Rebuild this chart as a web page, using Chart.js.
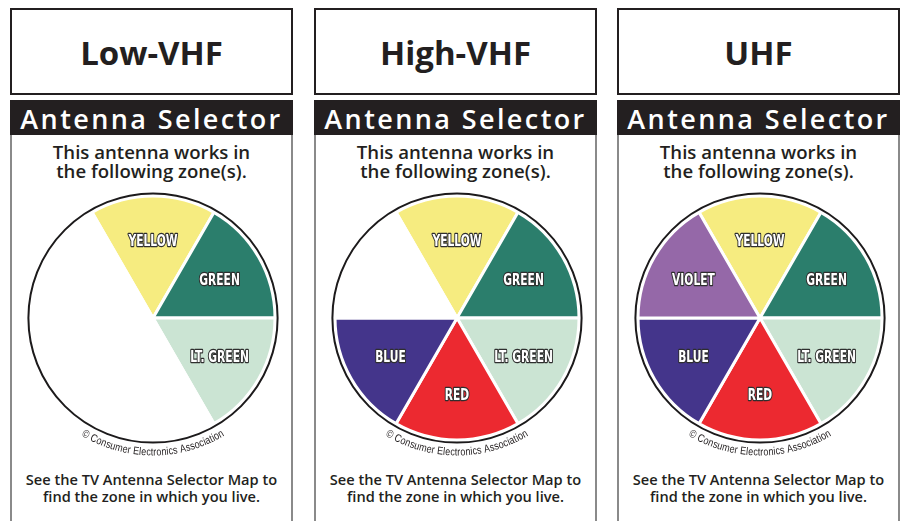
<!DOCTYPE html>
<html>
<head>
<meta charset="utf-8">
<script src="https://cdn.jsdelivr.net/npm/chart.js@4.4.0/dist/chart.umd.min.js"></script>
<style>
  html, body { margin:0; padding:0; background:#fff; }
  body { width:906px; height:521px; position:relative; overflow:hidden; font-family:"Open Sans", sans-serif; color:#231f20; }
  .panel { position:absolute; top:0; width:283px; height:521px; }
  .tbox { position:absolute; left:0; top:8px; width:283px; height:87px; box-sizing:border-box; border:2px solid #231f20; }
  .title { position:absolute; left:0; width:283px; top:36px; text-align:center; font-weight:700; font-size:33px; line-height:33px; white-space:nowrap; }
  .header { position:absolute; left:0; top:100px; width:283px; height:35px; background:#231f20; }
  .htext { position:absolute; left:0; width:283px; top:105px; text-align:center; color:#fff; font-size:27px; line-height:27px; font-weight:600; letter-spacing:2.4px; white-space:nowrap; }
  .body { position:absolute; left:0; top:135px; width:283px; height:400px; box-sizing:border-box; border-left:2px solid #8a8a8a; border-right:2px solid #8a8a8a; }
  .sub { position:absolute; left:0; width:283px; top:141.5px; text-align:center; font-size:18.6px; line-height:19px; font-weight:600; white-space:nowrap; }
  .foot { position:absolute; left:0; width:283px; top:471px; text-align:center; font-size:14.6px; line-height:17px; font-weight:600; white-space:nowrap; }
  canvas { position:absolute; left:0; top:178px; }
</style>
</head>
<body>
<script>
// ---- data ----
const panelTitles = ['Low-VHF', 'High-VHF', 'UHF'];
const zones = ['YELLOW', 'GREEN', 'LT. GREEN', 'RED', 'BLUE', 'VIOLET'];
const zoneColors = ['#f6ec80', '#2b7e6c', '#cbe4d3', '#ec2930', '#44358b', '#9568a8'];
const sliceShares = [1, 1, 1, 1, 1, 1];
const lowVHFZones  = [1, 1, 1, 0, 0, 0];
const highVHFZones = [1, 1, 1, 1, 1, 0];
const uhfZones     = [1, 1, 1, 1, 1, 1];
const panelZones = [lowVHFZones, highVHFZones, uhfZones];
const headerText = 'Antenna Selector';
const subText = ['This antenna works in', 'the following zone(s).'];
const footText = ['See the TV Antenna Selector Map to', 'find the zone in which you live.'];
const copyrightText = '\u00A9 Consumer Electronics Association';

const panelLefts = [10, 314, 617];

// ---- plugins ----
const ringPlugin = {
  id: 'ring',
  afterDatasetsDraw(chart) {
    const arc = chart.getDatasetMeta(0).data[0];
    if (!arc) return;
    const {x, y, outerRadius} = arc.getProps(['x', 'y', 'outerRadius'], true);
    const ctx = chart.ctx;
    ctx.save();
    ctx.beginPath();
    ctx.arc(x, y, outerRadius + 2.6, 0, Math.PI * 2);
    ctx.lineWidth = 2;
    ctx.strokeStyle = '#1c1a1b';
    ctx.stroke();
    ctx.restore();
  }
};

const labelPlugin = {
  id: 'zoneLabels',
  afterDatasetsDraw(chart) {
    const ds = chart.data.datasets[0];
    const active = ds.active;
    const ctx = chart.ctx;
    chart.getDatasetMeta(0).data.forEach((arc, i) => {
      if (!active[i]) return;
      const {x, y, startAngle, endAngle, outerRadius} = arc.getProps(['x', 'y', 'startAngle', 'endAngle', 'outerRadius'], true);
      const mid = (startAngle + endAngle) / 2;
      const r = outerRadius * 0.63;
      const px = x + Math.cos(mid) * r;
      const py = y + Math.sin(mid) * r;
      ctx.save();
      ctx.translate(px, py);
      ctx.scale(0.72, 1);
      ctx.font = 'bold 16.5px "Liberation Sans Narrow", "DejaVu Sans Condensed", sans-serif';
      ctx.textAlign = 'center';
      ctx.textBaseline = 'middle';
      ctx.lineJoin = 'round';
      ctx.lineWidth = 2.6;
      ctx.strokeStyle = '#2e2e2e';
      ctx.strokeText(chart.data.labels[i], 0, 1);
      ctx.fillStyle = '#ffffff';
      ctx.fillText(chart.data.labels[i], 0, 1);
      ctx.restore();
    });
  }
};

const copyrightPlugin = {
  id: 'copyright',
  afterDatasetsDraw(chart) {
    const arc = chart.getDatasetMeta(0).data[0];
    if (!arc) return;
    const {x, y, outerRadius} = arc.getProps(['x', 'y', 'outerRadius'], true);
    const ctx = chart.ctx;
    const sx = 0.82;
    ctx.save();
    ctx.font = '11px "Liberation Sans", Arial, sans-serif';
    ctx.fillStyle = '#231f20';
    ctx.textAlign = 'center';
    ctx.textBaseline = 'alphabetic';
    const rMid = outerRadius + 11;
    const rBase = outerRadius + 15.5;
    const chars = Array.from(copyrightText);
    const widths = chars.map(c => ctx.measureText(c).width * sx);
    const total = widths.reduce((a, b) => a + b, 0);
    let ang = Math.PI / 2 + (total / rMid) / 2;
    chars.forEach((c, i) => {
      const a = ang - (widths[i] / 2) / rMid;
      ctx.save();
      ctx.translate(x + Math.cos(a) * rBase, y + Math.sin(a) * rBase);
      ctx.rotate(a - Math.PI / 2);
      ctx.scale(sx, 1);
      ctx.fillText(c, 0, 0);
      ctx.restore();
      ang -= widths[i] / rMid;
    });
    ctx.restore();
  }
};

// ---- build panels ----
panelTitles.forEach((t, p) => {
  const panel = document.createElement('div');
  panel.className = 'panel';
  panel.style.left = panelLefts[p] + 'px';
  panel.innerHTML =
    '<div class="tbox"></div>' +
    '<div class="title">' + t + '</div>' +
    '<div class="header"></div>' +
    '<div class="htext">' + headerText + '</div>' +
    '<div class="body"></div>' +
    '<div class="sub">' + subText.join('<br>') + '</div>' +
    '<div class="foot">' + footText.join('<br>') + '</div>';
  const canvas = document.createElement('canvas');
  canvas.width = 286;
  canvas.height = 280;
  canvas.style.width = '286px';
  canvas.style.height = '280px';
  panel.appendChild(canvas);
  document.body.appendChild(panel);

  const active = panelZones[p];
  new Chart(canvas.getContext('2d'), {
    type: 'pie',
    data: {
      labels: zones,
      datasets: [{
        data: sliceShares,
        active: active,
        backgroundColor: zoneColors.map((c, i) => active[i] ? c : '#ffffff'),
        borderColor: '#ffffff',
        borderWidth: 3
      }]
    },
    options: {
      responsive: false,
      animation: false,
      devicePixelRatio: 1,
      radius: 122,
      rotation: -30,
      layout: { padding: 0 },
      plugins: { legend: { display: false }, tooltip: { enabled: false } },
      events: []
    },
    plugins: [ringPlugin, labelPlugin, copyrightPlugin]
  });
});
</script>
</body>
</html>
